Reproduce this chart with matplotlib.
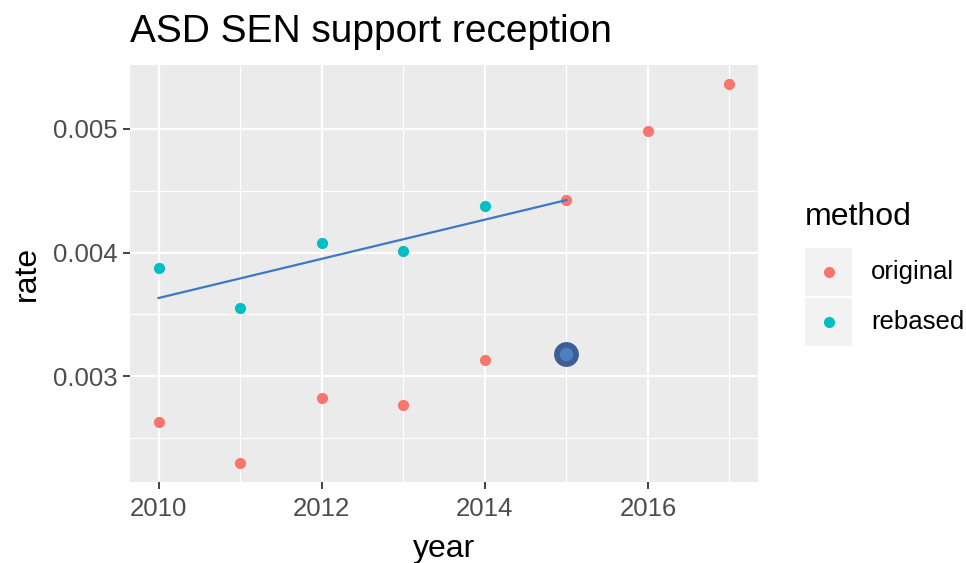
import numpy as np
import matplotlib
matplotlib.use("Agg")
from matplotlib import pyplot as plt
from matplotlib.patches import Rectangle
from matplotlib.lines import Line2D

# data
years = [2010, 2011, 2012, 2013, 2014, 2015, 2016, 2017]
original_rate = [0.002628, 0.002300, 0.002828, 0.002772, 0.003129, 0.004424, 0.004985, 0.005362]
rebased_years = [2010, 2011, 2012, 2013, 2014]
rebased_rate = [0.003875, 0.003555, 0.004078, 0.004015, 0.004380]
trend_years = [2010, 2015]
trend_rate = [0.003633, 0.004424]
highlight_year = [2015]
highlight_rate = [0.003180]

x_ticks = [2010, 2012, 2014, 2016]
y_ticks = [0.003, 0.004, 0.005]

c_orig = "#F8766D"
c_reb = "#00BFC4"

plt.rcParams['font.family'] = ['Liberation Sans', 'DejaVu Sans']

fig = plt.figure(figsize=(9.66, 5.63), dpi=100)
ax = fig.add_axes([0.1346, 0.1439, 0.6501, 0.7406])
ax.set_facecolor("#EBEBEB")
for s in ax.spines.values():
    s.set_visible(False)

ax.set_xticks(x_ticks)
ax.set_xticks([2011, 2013, 2015, 2017], minor=True)
ax.set_yticks(y_ticks)
ax.set_yticks([0.0025, 0.0035, 0.0045], minor=True)
ax.grid(which="major", color="white", linewidth=1.6)
ax.grid(which="minor", color="white", linewidth=0.8)
ax.set_axisbelow(True)
ax.tick_params(which="minor", length=0)
ax.tick_params(which="major", length=5, width=1.3, color="#333333",
               labelsize=18.5, labelcolor="#4D4D4D", pad=4)
ax.tick_params(axis="x", pad=6)
ax.set_yticklabels([f"{v:.3f}" for v in y_ticks])

ax.scatter(years, original_rate, s=65, color=c_orig, zorder=3, linewidths=0)
ax.scatter(rebased_years, rebased_rate, s=65, color=c_reb, zorder=3, linewidths=0)
ax.plot(trend_years, trend_rate, color="#3E78C4", linewidth=1.6, zorder=4)
ax.scatter(highlight_year, highlight_rate, s=320, color="#3E5F94", zorder=5, linewidths=0)
ax.scatter(highlight_year, highlight_rate, s=95, color="#4C80C4", zorder=6, linewidths=0)

allv = original_rate + rebased_rate
lo, hi = min(allv), max(allv)
pad = (hi - lo) * 0.05
ax.set_ylim(lo - pad, hi + pad)
ax.set_xlim(2010 - 0.35, 2017 + 0.35)

ax.set_xlabel("year", fontsize=23, labelpad=9)
ax.set_ylabel("rate", fontsize=23, labelpad=8)
fig.text(0.1346, 1 - 42 / 563, "ASD SEN support reception", fontsize=28, va="baseline")

# legend drawn by hand to get ggplot style key boxes
fig.text(805 / 966, 1 - 217 / 563, "method", fontsize=23, va="center")
labels = ["original", "rebased"]
colors = [c_orig, c_reb]
for i, (lab, col) in enumerate(zip(labels, colors)):
    y0 = 248 + i * 50
    fig.patches.append(Rectangle((805 / 966, 1 - (y0 + 48) / 563), 47 / 966, 48 / 563,
                                 transform=fig.transFigure, facecolor="#F2F2F2",
                                 edgecolor="none"))
    fig.lines.append(Line2D([828.5 / 966], [1 - (y0 + 24) / 563], marker="o",
                            markersize=8, color=col, markeredgewidth=0,
                            transform=fig.transFigure))
    fig.text(871 / 966, 1 - (y0 + 24) / 563, lab, fontsize=18.5, va="center")

fig.savefig("out.png", dpi=100)
